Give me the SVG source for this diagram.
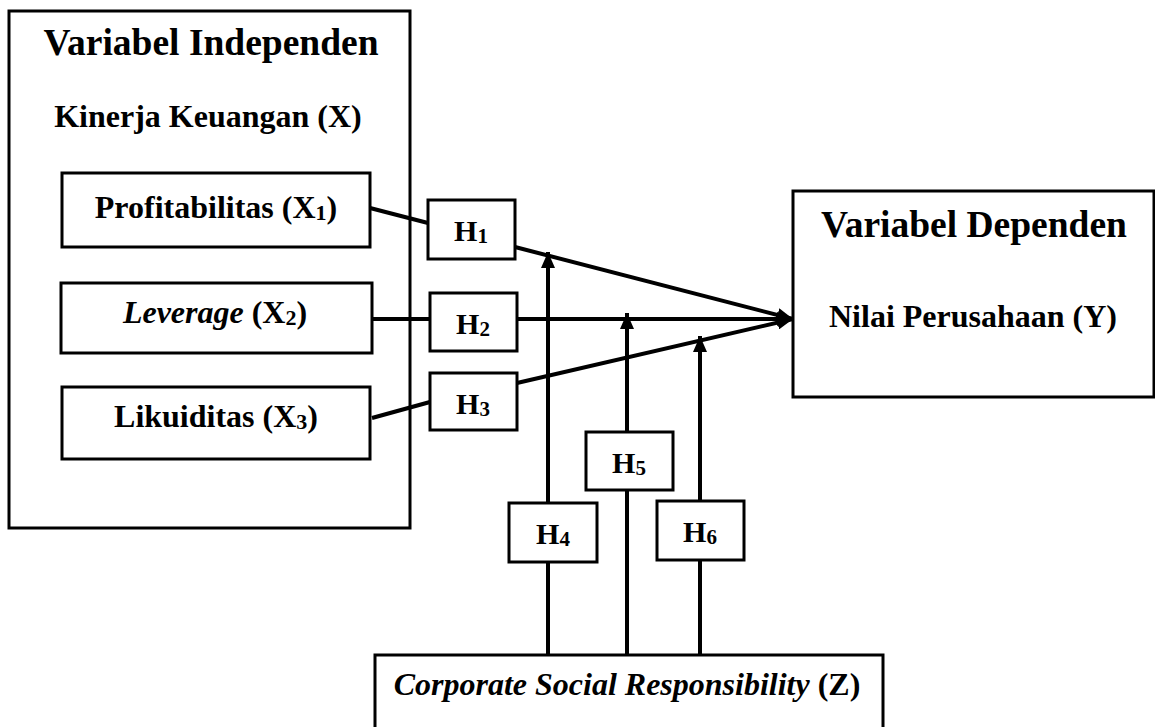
<svg xmlns="http://www.w3.org/2000/svg" width="1155" height="727" viewBox="0 0 1155 727">
<defs>
<style>
.box{fill:#fff;stroke:#000;stroke-width:3}
.ln{fill:none;stroke:#000;stroke-width:4}
text{font-family:"Liberation Serif","Times New Roman",serif;font-weight:bold;fill:#000;text-anchor:middle}
.t1{font-size:37.5px}
.t2{font-size:32px}
.h{font-size:30px}
.sub{font-size:22px}
.hs{font-size:21px}
</style>
<marker id="ah" markerUnits="userSpaceOnUse" markerWidth="16" markerHeight="14" refX="16" refY="7" orient="auto">
<path d="M0,0 L16,7 L0,14 Z" fill="#000"/>
</marker>
</defs>
<rect width="1155" height="727" fill="#fff"/>
<g id="independen">
<rect class="box" x="9" y="11" width="401" height="517"/>
<text class="t1" x="211" y="55">Variabel Independen</text>
<text class="t2" x="208" y="127">Kinerja Keuangan (X)</text>
</g>
<g id="connectors">
<line class="ln" x1="370" y1="208" x2="428" y2="223"/>
<line class="ln" x1="515" y1="247" x2="793" y2="319" marker-end="url(#ah)"/>
<line class="ln" x1="372" y1="319" x2="430" y2="319"/>
<line class="ln" x1="517" y1="319" x2="793" y2="319" marker-end="url(#ah)"/>
<line class="ln" x1="372" y1="418" x2="430" y2="402"/>
<line class="ln" x1="517" y1="383" x2="793" y2="319" marker-end="url(#ah)"/>
<line class="ln" x1="548" y1="655" x2="548" y2="562"/>
<line class="ln" x1="548" y1="503" x2="548" y2="252" marker-end="url(#ah)"/>
<line class="ln" x1="627" y1="655" x2="627" y2="490"/>
<line class="ln" x1="627" y1="432" x2="627" y2="313" marker-end="url(#ah)"/>
<line class="ln" x1="700" y1="655" x2="700" y2="560"/>
<line class="ln" x1="700" y1="501" x2="700" y2="336" marker-end="url(#ah)"/>
</g>
<g id="x1">
<rect class="box" x="62" y="173" width="308" height="74"/>
<text class="t2" x="216" y="218">Profitabilitas (X<tspan class="sub" dy="2">1</tspan><tspan dy="-2">)</tspan></text>
</g>
<g id="x2">
<rect class="box" x="61" y="283" width="311" height="70"/>
<text class="t2" x="215" y="323"><tspan font-style="italic">Leverage</tspan> (X<tspan class="sub" dy="2">2</tspan><tspan dy="-2">)</tspan></text>
</g>
<g id="x3">
<rect class="box" x="62" y="387" width="308" height="72"/>
<text class="t2" x="216" y="427">Likuiditas (X<tspan class="sub" dy="2">3</tspan><tspan dy="-2">)</tspan></text>
</g>
<g id="h1">
<rect class="box" x="428" y="200" width="87" height="59"/>
<text class="h" x="471" y="241">H<tspan class="hs" dy="2">1</tspan></text>
</g>
<g id="h2">
<rect class="box" x="430" y="293" width="87" height="58"/>
<text class="h" x="473" y="334">H<tspan class="hs" dy="2">2</tspan></text>
</g>
<g id="h3">
<rect class="box" x="430" y="373" width="87" height="57"/>
<text class="h" x="473" y="414">H<tspan class="hs" dy="2">3</tspan></text>
</g>
<g id="h4">
<rect class="box" x="509" y="503" width="88" height="59"/>
<text class="h" x="553" y="544">H<tspan class="hs" dy="2">4</tspan></text>
</g>
<g id="h5">
<rect class="box" x="586" y="432" width="87" height="58"/>
<text class="h" x="629" y="473">H<tspan class="hs" dy="2">5</tspan></text>
</g>
<g id="h6">
<rect class="box" x="657" y="501" width="87" height="59"/>
<text class="h" x="700" y="542">H<tspan class="hs" dy="2">6</tspan></text>
</g>
<g id="dependen">
<rect class="box" x="793" y="191" width="361" height="206"/>
<text class="t1" x="974" y="237">Variabel Dependen</text>
<text class="t2" x="973" y="327">Nilai Perusahaan (Y)</text>
</g>
<g id="csr">
<rect class="box" x="375" y="655" width="508" height="80"/>
<text class="t2" x="627" y="695"><tspan font-style="italic">Corporate Social Responsibility</tspan> (Z)</text>
</g>
</svg>
